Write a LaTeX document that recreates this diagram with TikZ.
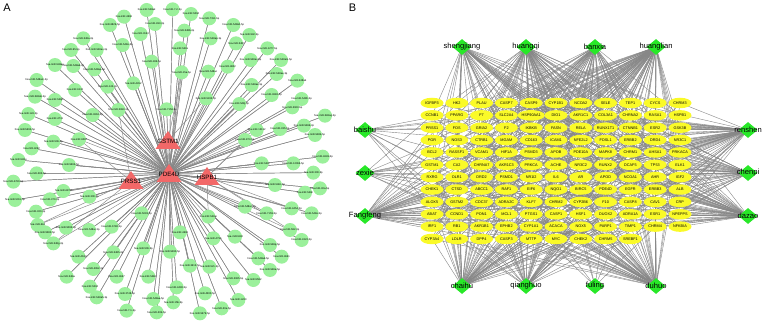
\documentclass[tikz,border=0pt]{standalone}
\usepackage{fontspec}
\setmainfont{Liberation Sans}
\usetikzlibrary{shapes.geometric}
\pgfdeclarelayer{bg}
\pgfdeclarelayer{paper}
\pgfsetlayers{paper,bg,main}
\definecolor{mirgreen}{RGB}{155,240,155}
\definecolor{trired}{RGB}{242,104,104}
\definecolor{herbgreen}{RGB}{40,232,40}
\definecolor{geneyellow}{RGB}{250,250,40}
\definecolor{edgegrey}{RGB}{135,135,135}
\tikzset{
  mir/.style={circle, fill=mirgreen, minimum size=14pt, inner sep=0pt},
  mirlab/.style={inner sep=0pt, font=\fontsize{2.6}{3}\selectfont},
  trilab/.style={inner sep=0pt, font=\fontsize{6.2}{7}\selectfont},
  aedge/.style={draw=edgegrey, line width=0.45pt},
  herb/.style={diamond, fill=herbgreen, minimum width=19pt, minimum height=16pt, inner sep=0pt},
  herblab/.style={inner sep=0pt, font=\fontsize{7.6}{9}\selectfont},
  gene/.style={ellipse, fill=geneyellow, minimum width=23pt, minimum height=10.5pt, inner sep=0pt, font=\fontsize{3.8}{4}\selectfont},
  bedge/.style={draw=edgegrey, line width=0.4pt},
  panel/.style={inner sep=0pt, font=\fontsize{11}{12}\selectfont}
}
\begin{document}
\begin{tikzpicture}[x=1pt,y=-1pt]
\useasboundingbox (0,0) rectangle (765,323);
\begin{pgfonlayer}{paper}
\fill[white] (0,0) rectangle (765,323);
\end{pgfonlayer}
\node[panel] (labA) at (7,7.5) {A};
\node[panel] (labB) at (352.5,7.5) {B};
% ---------------- Panel A ----------------
\foreach \n/\x/\y/\t in {gst/168/140/GSTM1, pde/169/173/PDE4D, prs/131/180/PRSS1, hsp/207/176/HSPB1}{
  \fill[trired] (\x-12.5,\y+9) -- (\x+12.5,\y+9) -- (\x,\y-9) -- cycle;
  \node[trilab] (\n) at (\x,\y+1) {\t};
}
\foreach \x/\y/\t/\e [count=\i] in {
440/30/548ak/pde, 518/28/7-2-3p/pde, 573/42/5094/pde, 628/55/7151-5p/pde, 372/50/4666/pde,
330/75/6829-5p/pde, 465/72/493-3p/pde, 553/92/548b-3p/pde, 422/102/3163/pde, 700/75/548ah-5p/pde,
748/105/942-5p/pde, 368/135/548o-5p/pde, 250/115/548a-3p/pde, 540/145/548s/pde, 632/115/548ap-3p/pde,
708/130/548l/pde, 802/145/1277-5p/pde, 213/150/95-5p/pde, 290/150/548av-3p/pde, 455/185/186-5p/pde,
752/180/548ax-5p/pde, 683/200/4802/pde, 843/180/548am-5p/pde, 165/195/548aa/pde, 220/198/548ad-3p/pde,
283/208/548ap-5p/pde, 545/217/15a-5p/gst, 625/215/548ac/pde, 830/222/548ae-3p/pde, 892/242/548ab/pde,
110/240/548am-3p/pde, 225/270/6133/pde, 323/260/143-3p/pde, 400/250/4452/pde, 755/255/548ae-5p/pde,
618/295/5195-3p/gst, 815/285/3682-3p/pde, 905/297/548h-5p/pde, 165/300/548p/pde, 105/290/548ab-5p/pde,
355/330/5693-3p/prs, 500/328/7156-3p/gst, 718/312/548j-3p/pde, 877/322/3923-5p/pde, 278/345/3662-5p/pde,
85/342/124-3p/pde, 165/357/4731/pde, 975/347/548aq-5p/pde, 912/377/548d-3p/pde, 770/390/12132/hsp,
840/387/335-5p/pde, 75/390/5692-5p/pde, 237/418/6087/prs, 735/420/873-5p/hsp, 160/425/506-3p/pde,
95/445/4262/pde, 945/405/548b-5p/pde, 968/470/4649-5p/pde, 880/490/12066-5p/pde, 785/490/548j/pde,
55/480/548u/pde, 207/495/5665-5p/pde, 940/518/300-5p/pde, 110/520/383-5p/pde, 40/545/4760-5p/pde,
825/555/548c-5p/pde, 915/578/548n/pde, 960/565/30a-5p/pde, 190/573/6873/pde, 268/590/300-3p/pde,
150/598/370-3p/pde, 45/600/5011-5p/pde, 875/625/4454-3p/hsp, 935/640/548e-5p/pde, 735/620/548ar-5p/pde,
800/640/7159-5p/hsp, 425/640/5093-5p/pde, 625/650/548ai/hsp, 108/635/320-3p/pde, 335/680/6780-5p/pde,
113/675/644/prs, 198/683/5095-3p/pde, 267/690/548ar-3p/pde, 135/697/5582-5p/pde, 870/690/582-3p/hsp,
905/720/4322-5p/pde, 540/697/4668/pde, 640/715/4795/pde, 705/710/548t/pde, 810/735/548q-5p/pde,
160/730/548g-3p/prs, 340/757/548h-3p/pde, 430/745/506-5p/pde, 510/755/5490-5p/pde, 775/775/548ad-5p/pde,
845/770/4661/pde, 235/770/4633/pde, 570/797/3613-5p/pde, 628/800/521-3p/pde, 280/807/4652-3p/pde,
810/810/548a-5p/pde, 350/830/4667/pde, 445/830/548m/pde, 200/830/548w/pde, 700/835/3065-5p/pde,
760/840/5582/pde, 270/860/5004/pde, 530/862/4490-5p/pde, 615/880/4500-5p/pde, 375/882/3748-5p/pde,
290/892/548ah-3p/pde, 460/897/548aa-5p/pde, 520/907/15b-5p/pde, 715/900/1260/pde, 380/932/7-1-3p/pde,
470/937/30b-5p/pde, 600/940/5679-5p/pde, 665/925/30e-5p/pde}{
  \node[mir, label={[mirlab]center:hsa-miR-\t}] (m\i) at (\x/3,\y/3) {};
  \begin{pgfonlayer}{bg}
    \draw[aedge] (m\i.center) -- (pde.center);
    \draw[aedge] (m\i.center) -- (\e.center);
  \end{pgfonlayer}
}
% ---------------- Panel B ----------------
\foreach \h/\x/\y in {shengjiang/462/47, huangqi/526/47, banxia/595/47, huanglian/656/47,
  baishu/365/130, zexie/365/173, Fangfeng/365/216,
  renshen/748/130, chenpi/748/173, dazao/748/216,
  chaihu/462/286, qianghuo/526/286, fuling/595/286, duhuo/656/286}{
  \node[herb, label={[herblab]center:\h}] (\h) at (\x,\y) {};
}
\foreach \row [count=\r] in {
 {IGFBP3,HK2,PLAU,CASP7,CASP9,CYP1B1,NCOA2,SELE,TEP1,CYCS,CHRM3},
 {CCNB1,PPARG,F7,SLC2A4,HSP90AA1,DIO1,AKR1C1,COL3A1,CHRNA2,RASA1,HSPB1},
 {PRSS1,FOS,GRIA2,F2,IKBKB,FASN,RELA,RUNX1T1,CTNNB1,ESR2,GSK3B},
 {PGR,NOS3,CTRB1,MGAM,CD163,ICAM1,NFE2L2,FOSL1,ERBB2,DRD4,NR3C1},
 {BCL2,RASSF1,VCAM1,HIF1A,PSMD3,APOB,PDE10A,MAPK8,CHRM1,AHSA1,PRKACA},
 {GSTM1,CA2,CHRNA7,AKR1C3,PRKCA,ACHE,NR3C2,RUNX2,DCAF5,TP53,ELK1},
 {RXRG,OLR1,DRD2,PSMD1,NR1I2,IL6,AR,APOD,NCOA1,AHR,IGF2},
 {CHEK1,CTSD,ABCC1,RAF1,EIF6,NQO1,BIRC5,PDE4D,EGFR,ERBB3,ALB},
 {ALOX5,GSTM2,CDC37,ADRA2C,KLF7,CHRM2,CYP2B6,F10,CASP8,CAV1,CRP},
 {ABAT,CCND1,PON1,MCL1,PTGS1,CASP1,HSF1,DUOX2,ADRA1A,ESR1,NPEPPS},
 {IRF1,RB1,AKR1B1,EPHB2,CYP1A1,ACACA,NOX5,PARP1,TIMP1,CHRM4,NFKBIA},
 {CYP3A4,LDLR,DPP4,CASP3,MTTP,MYC,CHEK2,CHRM5,SREBF1}}{
  \foreach \g [count=\c] in \row {
    \node[gene] (g\r-\c) at ({432+(\c-1)*24.8},{103+(\r-1)*12.36}) {\g};
  }
}
\pgfmathsetseed{11}
\begin{pgfonlayer}{bg}
\foreach \h/\p in {shengjiang/0.28, huangqi/0.55, banxia/0.32, huanglian/0.52,
  baishu/0.10, zexie/0.08, Fangfeng/0.36, renshen/0.42, chenpi/0.32, dazao/0.46,
  chaihu/0.42, qianghuo/0.36, fuling/0.12, duhuo/0.45}{
  \foreach \r in {1,...,12}{
    \foreach \c in {1,...,11}{
      \pgfmathtruncatemacro\ok{(rnd<\p)*((\r<12)||(\c<10))}
      \ifnum\ok=1 \draw[bedge] (\h.center) -- (g\r-\c.center); \fi
    }
  }
}
\end{pgfonlayer}
\end{tikzpicture}
\end{document}
